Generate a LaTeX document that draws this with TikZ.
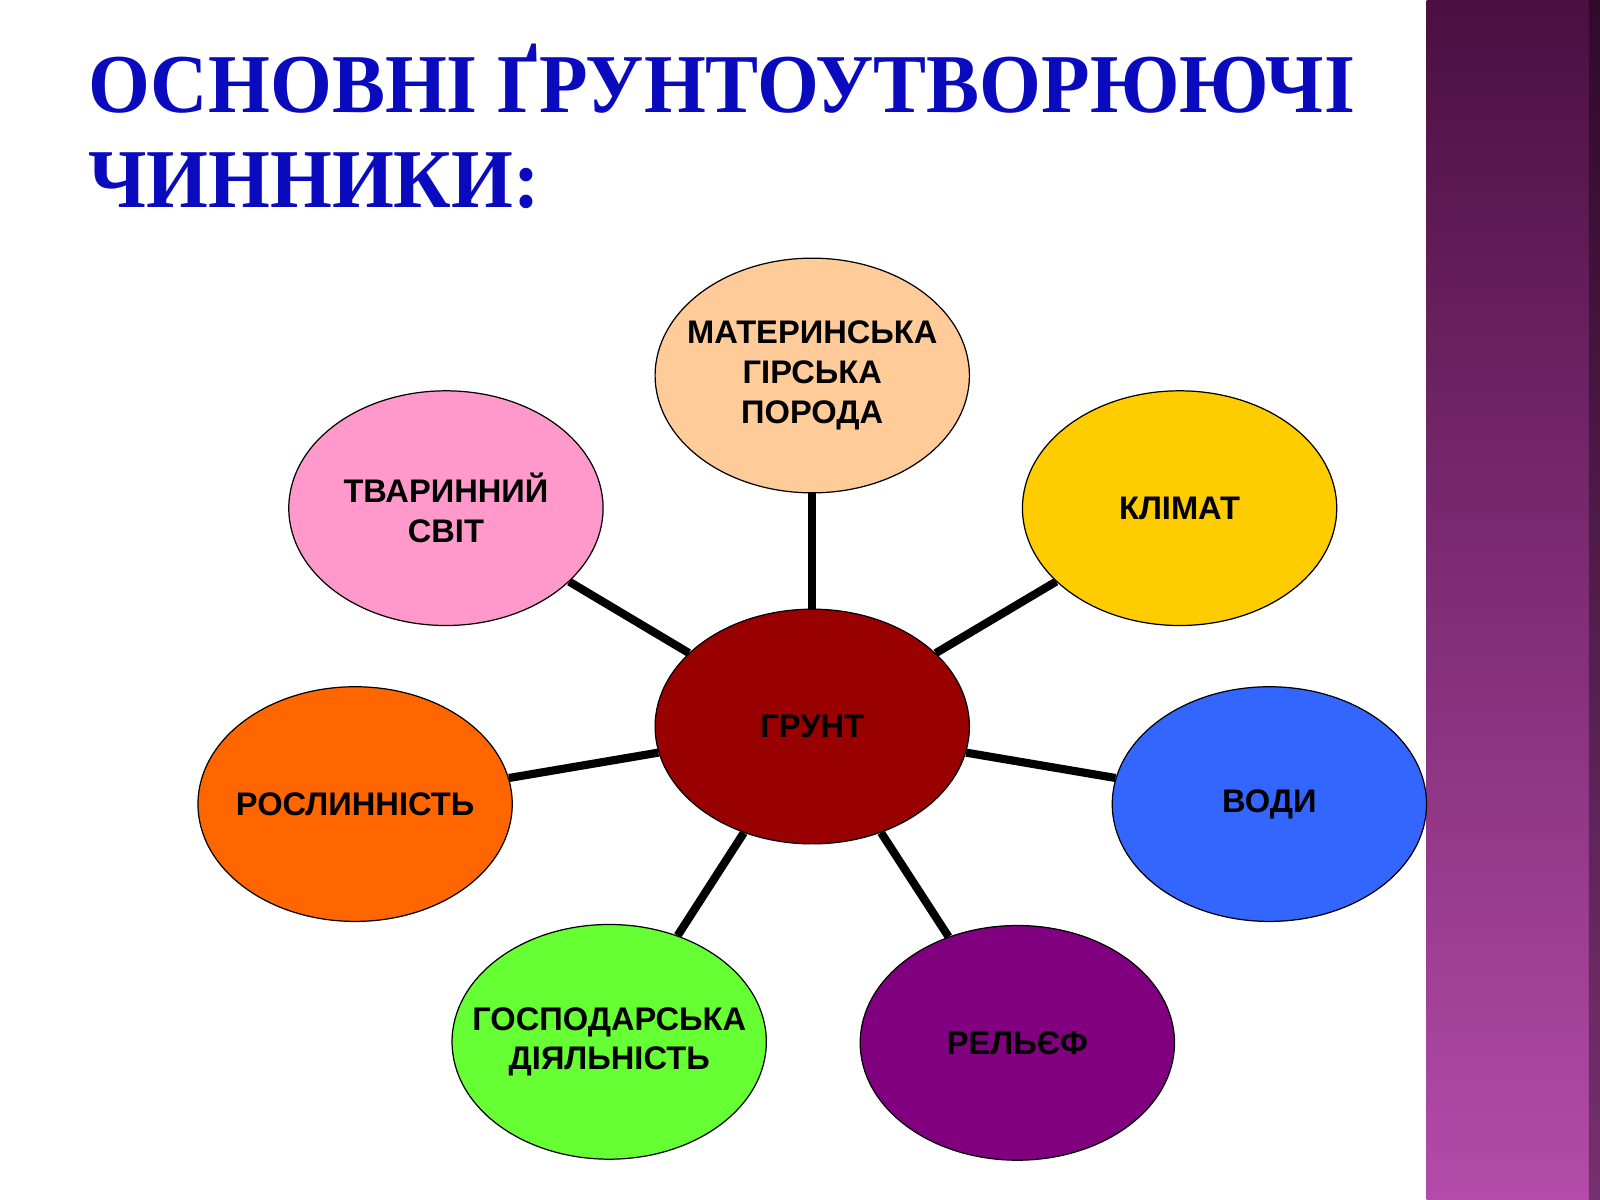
\documentclass[tikz,border=0pt]{standalone}
\usepackage{fontspec}
\setmainfont{Liberation Sans}
\newfontfamily\titlefont[FakeStretch=0.95]{Liberation Serif}
\usetikzlibrary{shapes.geometric}

\definecolor{titleblue}{RGB}{10,10,190}
\definecolor{stripetop}{RGB}{75,15,65}
\definecolor{stripebot}{RGB}{180,75,170}
\definecolor{porodacol}{RGB}{255,204,153}
\definecolor{tvarcol}{RGB}{255,153,204}
\definecolor{klimatcol}{RGB}{255,204,0}
\definecolor{gruntcol}{RGB}{153,0,0}
\definecolor{roslcol}{RGB}{255,102,0}
\definecolor{vodycol}{RGB}{51,102,255}
\definecolor{gospcol}{RGB}{102,255,51}
\definecolor{relcol}{RGB}{128,0,128}

\begin{document}
\begin{tikzpicture}[x=0.5pt,y=-0.5pt,
    factor/.style={ellipse,draw,line width=0.6pt,minimum width=154pt,minimum height=115pt,
        inner xsep=-20pt,inner ysep=0pt,align=center,font=\fontsize{16}{19.5}\selectfont\bfseries},
    link/.style={line width=4pt},
    heading/.style={anchor=base west,inner sep=0pt,text=titleblue,
        font=\titlefont\fontsize{41}{41}\selectfont\bfseries}]

        % page and stripe
        \fill [white] (0,0) rectangle (1568,1176);
        \useasboundingbox (0,0) rectangle (1568,1176);
        \shade [top color=stripetop, bottom color=stripebot] (1398,0) rectangle (1568,1176);
        \shade [left color=stripebot!0!black, right color=black, opacity=.35] (1557,0) rectangle (1568,1176);

        % heading
        \node [heading] (head1) at (86,110) {ОСНОВНІ ҐРУНТОУТВОРЮЮЧІ};
        \node [heading] (head2) at (86,203) {ЧИННИКИ:};

        % factors
        \node [factor, fill=gruntcol] (grunt) at (796,712) {ГРУНТ};
        \node [factor, fill=porodacol] (poroda) at (796,368) {МАТЕРИНСЬКА\\ГІРСЬКА\\ПОРОДА};
        \node [factor, fill=tvarcol] (tvar) at (437,498) {ТВАРИННИЙ\\СВІТ};
        \node [factor, fill=klimatcol] (klimat) at (1156,498) {КЛІМАТ};
        \node [factor, fill=roslcol] (rosl) at (348,788) {РОСЛИННІСТЬ};
        \node [factor, fill=vodycol] (vody) at (1244,788) {ВОДИ};
        \node [factor, fill=gospcol] (gosp) at (597,1021) {ГОСПОДАРСЬКА\\ДІЯЛЬНІСТЬ};
        \node [factor, fill=relcol] (relief) at (997,1022) {РЕЛЬЄФ};

        % links
        \draw [link] (grunt) -- (poroda);
        \draw [link] (grunt) -- (tvar);
        \draw [link] (grunt) -- (klimat);
        \draw [link] (grunt) -- (rosl);
        \draw [link] (grunt) -- (vody);
        \draw [link] (grunt) -- (gosp);
        \draw [link] (grunt) -- (relief);

    \end{tikzpicture}
\end{document}
